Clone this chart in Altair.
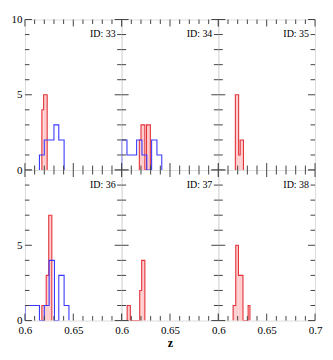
import altair as alt
import pandas as pd

ids = [33, 34, 35, 36, 37, 38]

# red histograms: bin edges and counts
red_edges = {
    33: [0.6175, 0.6193, 0.6230],
    34: [0.6183, 0.6200, 0.6240, 0.6257, 0.6297],
    35: [0.6176, 0.6210, 0.6226, 0.6260],
    36: [0.6175, 0.6220, 0.6246, 0.6278],
    37: [0.6057, 0.6090, 0.6187, 0.6207, 0.6240],
    38: [0.6153, 0.6180, 0.6208, 0.6255, 0.6308, 0.6327],
}
red_counts = {
    33: [4, 5],
    34: [2, 3, 0, 3],
    35: [5, 1, 2],
    36: [1, 3, 7],
    37: [1, 0, 2, 4],
    38: [1, 5, 3, 0, 1],
}
# blue histograms
blue_edges = {
    33: [0.615, 0.620, 0.630, 0.635, 0.6405],
    34: [0.600, 0.6055, 0.6155, 0.621, 0.626, 0.631, 0.6365, 0.6415],
    36: [0.600, 0.615, 0.620, 0.625, 0.6305, 0.635, 0.6405, 0.6455],
}
blue_counts = {
    33: [1, 2, 3, 2],
    34: [2, 1, 2, 1, 0, 2, 1],
    36: [1, 0, 1, 4, 0, 3, 1],
}

x_minor = [0.61, 0.62, 0.63, 0.64, 0.66, 0.67, 0.68, 0.69]
x_major = [0.6, 0.65, 0.7]
y_minor = [1, 2, 3, 4, 6, 7, 8, 9]
y_major = [0, 5, 10]

W, H = 97, 151
FONT = "Liberation Serif"
xscale = alt.Scale(domain=[0.6, 0.7], nice=False, zero=False)
yscale = alt.Scale(domain=[0, 10], nice=False, zero=False)


def step_points(edges, counts):
    rows = [{"x": edges[0], "y": 0, "i": 0}]
    for k, c in enumerate(counts):
        rows.append({"x": edges[k], "y": c, "i": k + 1})
    rows.append({"x": edges[-1], "y": 0, "i": len(counts) + 1})
    return pd.DataFrame(rows)


def bins(edges, counts):
    return pd.DataFrame({"x0": edges[:-1], "x1": edges[1:], "c": counts,
                         "z": [0] * len(counts)})


def tick_layers(xaxis, yaxis):
    layers = []
    tick_color = "#444444"
    for vals, L in ((x_minor, 4.5), (x_major, 7)):
        d = pd.DataFrame({"v": vals})
        base = alt.Chart(d).mark_rule(color=tick_color, strokeWidth=1)
        layers.append(base.encode(x=alt.X("v:Q", scale=xscale, axis=xaxis),
                                  y=alt.value(H), y2=alt.value(H - L)))
        layers.append(base.encode(x=alt.X("v:Q", scale=xscale, axis=xaxis),
                                  y=alt.value(0), y2=alt.value(L)))
    for vals, L in ((y_minor, 4.5), (y_major, 7)):
        d = pd.DataFrame({"v": vals})
        base = alt.Chart(d).mark_rule(color=tick_color, strokeWidth=1)
        layers.append(base.encode(y=alt.Y("v:Q", scale=yscale, axis=yaxis),
                                  x=alt.value(0), x2=alt.value(L)))
        layers.append(base.encode(y=alt.Y("v:Q", scale=yscale, axis=yaxis),
                                  x=alt.value(W), x2=alt.value(W - L)))
    return layers


def panel(pid, row, col):
    if row == 1:
        xaxis = alt.Axis(values=x_major if col == 2 else x_major[:2], format="~g",
                         ticks=False, domain=False, grid=False, labelFlush=False,
                         labelOverlap=False, labelFont=FONT, labelFontSize=11,
                         labelColor="black", labelPadding=4,
                         title="z" if col == 1 else "",
                         titleFont=FONT, titleFontSize=12, titleFontWeight="bold",
                         titleColor="black", titlePadding=2)
    else:
        xaxis = None
    if col == 0:
        yaxis = alt.Axis(values=y_major if row == 0 else y_major[:2],
                         ticks=False, domain=False, grid=False, labelFont=FONT,
                         labelFontSize=11, labelColor="black", labelPadding=3,
                         title="")
    else:
        yaxis = None

    rb = bins(red_edges[pid], red_counts[pid])
    layers = []
    layers.append(alt.Chart(rb).mark_rect(color="#ffc8c8", opacity=0.9).encode(
        x=alt.X("x0:Q", scale=xscale, axis=xaxis), x2="x1:Q",
        y=alt.Y("z:Q", scale=yscale, axis=yaxis), y2="c:Q"))
    rd = step_points(red_edges[pid], red_counts[pid])
    layers.append(alt.Chart(rd).mark_line(interpolate="step-after", color="#e3343c",
                                          strokeWidth=1.1, clip=True).encode(
        x=alt.X("x:Q", scale=xscale, axis=xaxis),
        y=alt.Y("y:Q", scale=yscale, axis=yaxis),
        order=alt.Order("i:Q")))
    if pid in blue_edges:
        bd = step_points(blue_edges[pid], blue_counts[pid])
        layers.append(alt.Chart(bd).mark_line(interpolate="step-after", color="#3a3aff",
                                              strokeWidth=1.1, clip=True).encode(
            x=alt.X("x:Q", scale=xscale, axis=xaxis),
            y=alt.Y("y:Q", scale=yscale, axis=yaxis),
            order=alt.Order("i:Q")))
    layers += tick_layers(xaxis, yaxis)
    td = pd.DataFrame({"t": [f"ID: {pid}"]})
    layers.append(alt.Chart(td).mark_text(align="right", baseline="middle", font=FONT,
                                          fontSize=10, color="black").encode(
        x=alt.value(W - 6), y=alt.value(15), text="t:N"))
    return alt.layer(*layers).properties(width=W, height=H)


panels = [panel(ids[r * 3 + c], r, c) for r in range(2) for c in range(3)]

chart = alt.concat(*panels, columns=3, spacing=0, bounds="flush").properties(
    padding={"left": 2, "top": 4, "right": 2, "bottom": 2}
).configure_view(stroke="#222222", strokeWidth=1.4).configure(background="white")

chart.save("out.html", embed_options={"renderer": "svg", "actions": False})
